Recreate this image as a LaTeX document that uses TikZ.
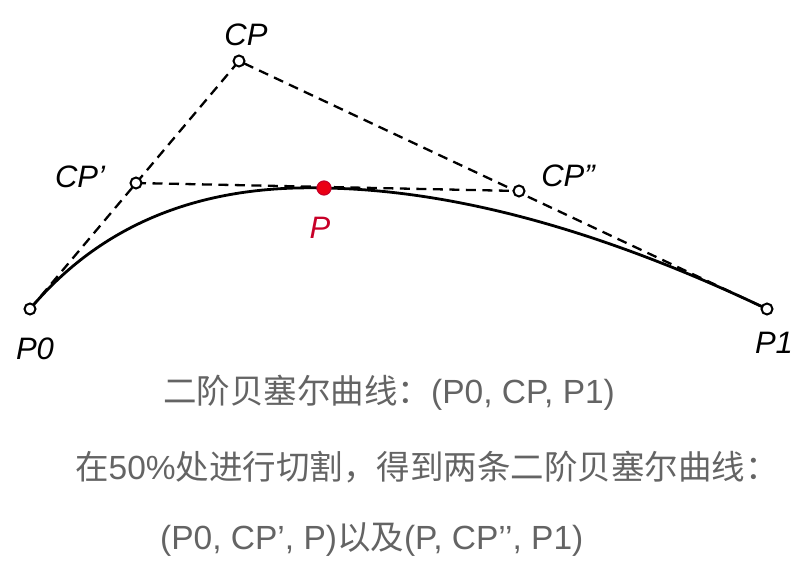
\documentclass[tikz,border=0pt]{standalone}
\usepackage{fontspec}
\setmainfont{Liberation Sans}
\newfontfamily\cjk{Noto Sans CJK SC}
\usetikzlibrary{calc}
\definecolor{txtgray}{RGB}{100,100,100}
\definecolor{pred}{RGB}{200,0,40}
\definecolor{dotred}{RGB}{235,0,20}
\begin{document}
\begin{tikzpicture}[x=1pt,y=-1pt,
  ctrl/.style={circle,draw=black,fill=white,line width=2pt,inner sep=0pt,minimum size=11pt},
  lbl/.style={font=\fontsize{31}{34}\selectfont\itshape,text=black},
  guide/.style={dash pattern=on 10pt off 6.5pt,line width=2.3pt},
  curveline/.style={line width=2.8pt},
  caption/.style={font=\fontsize{33.5}{36}\selectfont,text=txtgray,anchor=west,inner sep=0pt}]
\useasboundingbox (0,0) rectangle (811,577);
\coordinate (P0) at (30,309);
\coordinate (CP) at (239,61);
\coordinate (P1) at (767,309);
\coordinate (CPa) at (136,183);
\coordinate (CPb) at (519,191);
\coordinate (P) at (324,188);
% guides
\draw[guide] (P0) -- (CP) -- (P1);
\draw[guide] (CPa) -- (CPb);
% curve
\draw[curveline] (P0) .. controls ($(P0)!2/3!(CPa)$) and ($(P)!2/3!(CPa)$) .. (P)
  .. controls ($(P)!2/3!(CPb)$) and ($(P1)!2/3!(CPb)$) .. (P1);
% points
\node[ctrl] (nP0) at (P0) {};
\node[ctrl] (nCP) at (CP) {};
\node[ctrl] (nP1) at (P1) {};
\node[ctrl] (nCPa) at (CPa) {};
\node[ctrl] (nCPb) at (CPb) {};
\node[circle,draw=pred,fill=dotred,line width=1.2pt,inner sep=0pt,minimum size=14pt] (nP) at (P) {};
% labels
\node[lbl] (lCP) at (246,35) {CP};
\node[lbl] (lCPa) at (80,177) {CP’};
\node[lbl] (lCPb) at (568,176) {CP”};
\node[lbl,text=pred] (lP) at (320,228) {P};
\node[lbl] (lP0) at (35,349) {P0};
\node[lbl] (lP1) at (774,343) {P1};
% captions
\node[caption] (c1) at (163,393) {{\cjk 二阶贝塞尔曲线：}(P0, CP, P1)};
\node[caption] (c2) at (75,467) {{\cjk 在}50\%{\cjk 处进行切割，得到两条二阶贝塞尔曲线：}};
\node[caption] (c3) at (160,540) {(P0, CP’, P){\cjk 以及}(P, CP’’, P1)};
\end{tikzpicture}
\end{document}
